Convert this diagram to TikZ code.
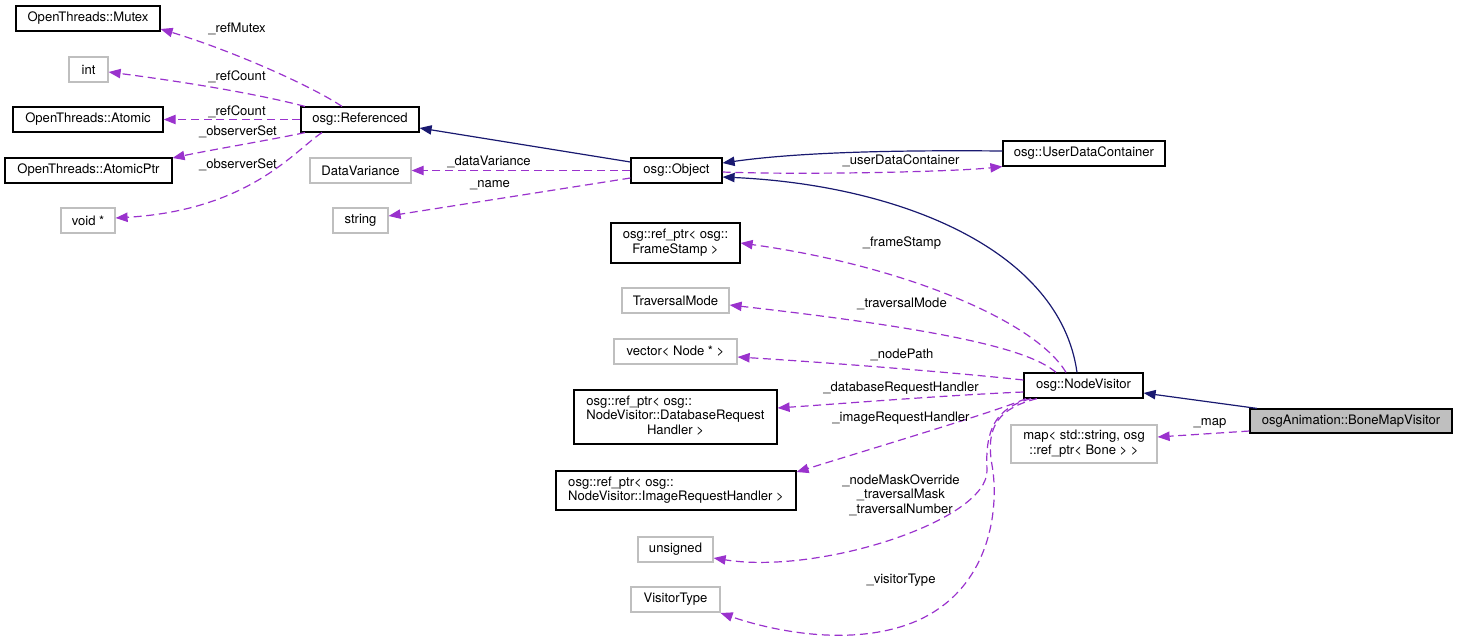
\documentclass[tikz,border=0pt]{standalone}
\usepackage{fontspec}
\setmainfont{TeX Gyre Heros}
\usetikzlibrary{arrows.meta,calc}
\definecolor{navy}{HTML}{191970}
\definecolor{orch}{HTML}{9A32CD}
\definecolor{lgray}{HTML}{BFBFBF}
\begin{document}
\begin{tikzpicture}[x=0.75pt,y=-0.75pt,
  base/.style={font=\fontsize{9.8}{11}\selectfont, inner sep=0pt, fill=white, line width=0.9pt},
  bbox/.style={base, draw=black},
  gbox/.style={base, draw=lgray},
  hbox/.style={base, draw=black, fill=lgray},
  lbl/.style={font=\fontsize{9.8}{11}\selectfont, inner sep=0pt, align=center},
  inh/.style={draw=navy, line width=0.9pt, -{Triangle[length=9pt,width=7pt]}},
  mem/.style={draw=orch, line width=0.9pt, dash pattern=on 6pt off 3.5pt, -{Triangle[length=9pt,width=7pt]}}
]
\useasboundingbox (0,0) rectangle (1457,637);
\renewcommand{\arraystretch}{1}
% nodes
\node[bbox, minimum width=108pt, minimum height=18.75pt] (mutex) at (88,18.5) {OpenThreads::Mutex};
\node[gbox, minimum width=29.25pt, minimum height=18.75pt] (int) at (88.5,69.5) {int};
\node[bbox, minimum width=112.5pt, minimum height=18.75pt] (atomic) at (88,119.5) {OpenThreads::Atomic};
\node[bbox, minimum width=125.25pt, minimum height=18.75pt] (atomicptr) at (88.5,170.5) {OpenThreads::AtomicPtr};
\node[gbox, minimum width=40.5pt, minimum height=18.75pt] (voidp) at (88,220.5) {void *};
\node[bbox, minimum width=88.5pt, minimum height=18.75pt] (ref) at (360,119.5) {osg::Referenced};
\node[gbox, minimum width=75.75pt, minimum height=18.75pt] (datavar) at (360.5,170.5) {DataVariance};
\node[gbox, minimum width=41.25pt, minimum height=18.75pt] (string) at (360.5,220.5) {string};
\node[bbox, minimum width=68.25pt, minimum height=18.75pt] (object) at (676.5,170.5) {osg::Object};
\node[bbox, minimum width=121.5pt, minimum height=18.75pt] (udc) at (1084,153.5) {osg::UserDataContainer};
\node[bbox, minimum width=96.75pt, minimum height=30pt] (framestamp) at (675.5,243) {\begin{tabular}{@{}c@{}}osg::ref\_ptr< osg::\\FrameStamp >\end{tabular}};
\node[gbox, minimum width=80.25pt, minimum height=18.75pt] (travmode) at (675.5,300.5) {TraversalMode};
\node[gbox, minimum width=92.25pt, minimum height=18.75pt] (vector) at (675.5,351.5) {vector< Node * >};
\node[bbox, minimum width=152.25pt, minimum height=40.5pt] (dbreq) at (675.5,417) {\begin{tabular}{@{}l@{}}osg::ref\_ptr< osg::\\NodeVisitor::DatabaseRequest\\\multicolumn{1}{@{}c@{}}{Handler >}\end{tabular}};
\node[bbox, minimum width=180pt, minimum height=29.25pt] (imgreq) at (676,490.5) {\begin{tabular}{@{}l@{}}osg::ref\_ptr< osg::\\NodeVisitor::ImageRequestHandler >\end{tabular}};
\node[gbox, minimum width=56.25pt, minimum height=18.75pt] (unsigned) at (675.5,549.5) {unsigned};
\node[gbox, minimum width=66.75pt, minimum height=18.75pt] (vistype) at (675.5,599.5) {VisitorType};
\node[bbox, minimum width=89.25pt, minimum height=18.75pt] (nv) at (1083.5,385.5) {osg::NodeVisitor};
\node[hbox, minimum width=151.5pt, minimum height=18pt] (bmv) at (1351,421) {osgAnimation::BoneMapVisitor};
\node[gbox, minimum width=109.5pt, minimum height=28.5pt] (map) at (1084,444) {\begin{tabular}{@{}c@{}}map< std::string, osg\\::ref\_ptr< Bone > >\end{tabular}};
% inheritance
\draw[inh] (object.west |- 0,162) -- (ref.east |- 0,128);
\draw[inh] (udc.west |- 0,151) .. controls (900,150) and (800,152) .. (object.east |- 0,163);
\draw[inh] (nv.north -| 1077,0) .. controls (1060,250) and (900,185) .. (object.east |- 0,177);
\draw[inh] (bmv.north -| 1257,0) -- (nv.east |- 0,393);
% members of Referenced
\draw[mem] (ref.north -| 342,0) .. controls (310,85) and (230,50) .. (mutex.east |- 0,29);
\draw[mem] (ref.north -| 305,0) .. controls (250,92) and (170,80) .. (int.east |- 0,72);
\draw[mem] (ref.west) -- (atomic.east);
\draw[mem] (ref.south -| 305,0) .. controls (270,140) and (210,150) .. (atomicptr.east |- 0,158);
\draw[mem] (ref.south -| 322,0) .. controls (295,150) and (250,210) .. (voidp.east |- 0,218);
% members of Object
\draw[mem] (object.west) -- (datavar.east);
\draw[mem] (object.west |- 0,178) -- (string.east |- 0,216);
\draw[mem] (object.east |- 0,172) .. controls (800,175) and (950,172) .. (udc.south west);
% members of NodeVisitor
\draw[mem] (nv.north -| 1066,0) .. controls (1035,320) and (900,265) .. (framestamp.east |- 0,243);
\draw[mem] (nv.north -| 1056,0) .. controls (1030,350) and (950,330) .. (travmode.east |- 0,305);
\draw[mem] (nv.west |- 0,380) .. controls (950,372) and (820,362) .. (vector.east |- 0,357);
\draw[mem] (nv.west |- 0,392) .. controls (950,395) and (850,403) .. (dbreq.east |- 0,408);
\draw[mem] (nv.south -| 1026,0) .. controls (1000,410) and (900,440) .. (imgreq.east |- 0,472);
\draw[mem] (nv.south -| 1031,0) .. controls (995,408) and (985,430) .. (987,470) .. controls (989,520) and (820,575) .. (unsigned.east |- 0,558);
\draw[mem] (nv.south -| 1037,0) .. controls (1000,408) and (985,425) .. (992,465) .. controls (1000,510) and (990,600) .. (900,627) .. controls (840,645) and (770,630) .. (vistype.east |- 0,613);
% member of BoneMapVisitor
\draw[mem] (bmv.west |- 0,431) -- (map.east |- 0,437);
% labels
\node[lbl] (l1) at (237,29) {\_refMutex};
\node[lbl] (l2) at (237,77) {\_refCount};
\node[lbl] (l3) at (237,112) {\_refCount};
\node[lbl] (l4) at (238,132) {\_observerSet};
\node[lbl] (l5) at (238,165) {\_observerSet};
\node[lbl] (l6) at (489,162) {\_dataVariance};
\node[lbl] (l7) at (490,185) {\_name};
\node[lbl] (l8) at (901,161) {\_userDataContainer};
\node[lbl] (l9) at (902,243) {\_frameStamp};
\node[lbl] (l10) at (902,304) {\_traversalMode};
\node[lbl] (l11) at (902,355) {\_nodePath};
\node[lbl] (l12) at (901,388) {\_databaseRequestHandler};
\node[lbl] (l13) at (901,418) {\_imageRequestHandler};
\node[lbl] (l14) at (901,495) {\_nodeMaskOverride\\\_traversalMask\\\_traversalNumber};
\node[lbl] (l15) at (901,580) {\_visitorType};
\node[lbl] (l16) at (1210,423) {\_map};
\end{tikzpicture}
\end{document}
